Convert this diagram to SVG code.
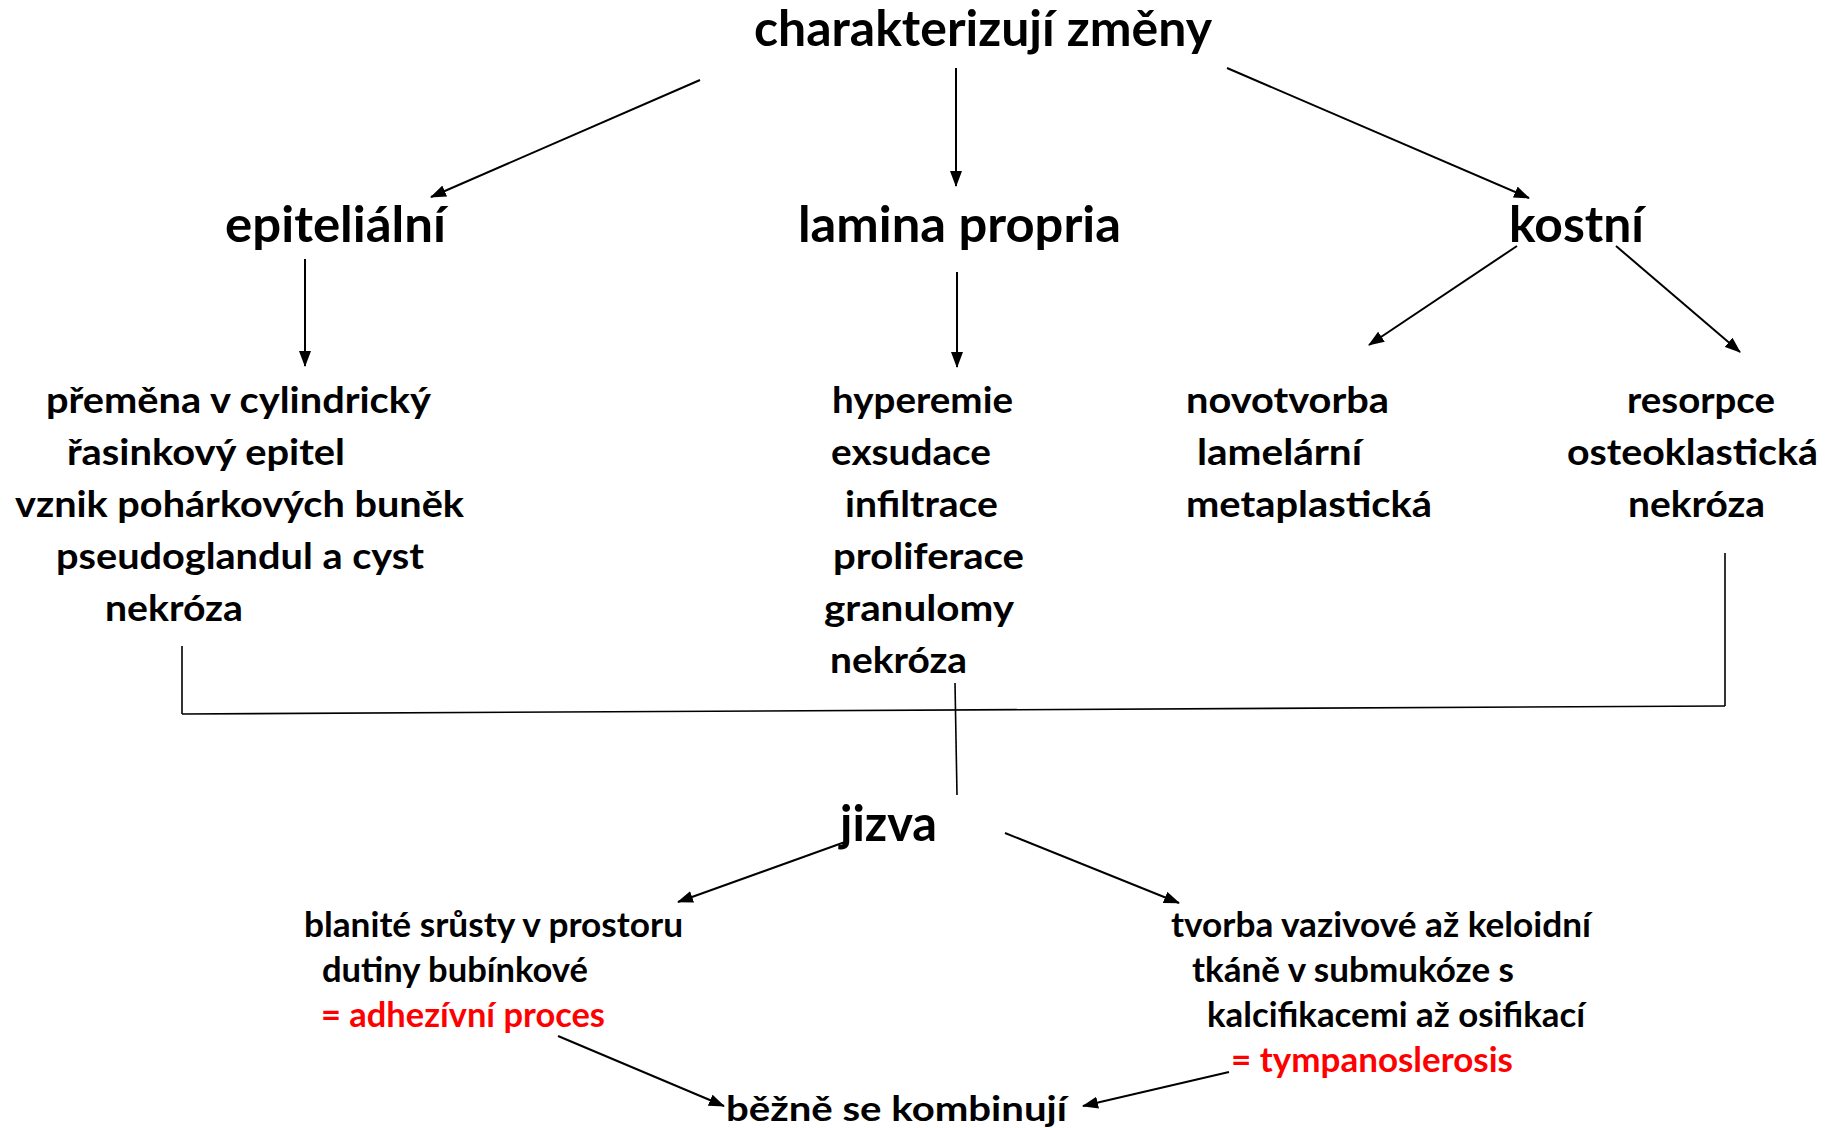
<svg xmlns="http://www.w3.org/2000/svg" width="1832" height="1128" viewBox="0 0 1832 1128">
<defs>
<style>
text{font-family:Lato,"Open Sans","Liberation Sans",sans-serif;font-weight:bold;fill:#000}
.h{font-size:49px}
.m{font-size:37px}
.s{font-size:34px}
.red{fill:#ff0000}
.arr{stroke:#000;stroke-width:2;fill:none;marker-end:url(#ah)}
.ln{stroke:#000;stroke-width:1.6;fill:none}
</style>
<marker id="ah" viewBox="0 0 16 12" refX="15" refY="6" markerWidth="16" markerHeight="12" markerUnits="userSpaceOnUse" orient="auto">
<path d="M0,0 L16,6 L0,12 Z" fill="#000"/>
</marker>
</defs>
<rect width="1832" height="1128" fill="#fff"/>
<g id="connectors">
<line class="arr" x1="700" y1="80" x2="431" y2="197"/>
<line class="arr" x1="956" y1="68" x2="956" y2="186"/>
<line class="arr" x1="1227" y1="68" x2="1529" y2="198"/>
<line class="arr" x1="305" y1="259" x2="305" y2="366"/>
<line class="arr" x1="957" y1="272" x2="957" y2="367"/>
<line class="arr" x1="1517" y1="246" x2="1369" y2="345"/>
<line class="arr" x1="1616" y1="246" x2="1740" y2="352"/>
<line class="ln" x1="182" y1="646" x2="182" y2="714"/>
<line class="ln" x1="182" y1="714" x2="1725" y2="706"/>
<line class="ln" x1="1725" y1="553" x2="1725" y2="706"/>
<line class="ln" x1="955" y1="683" x2="957" y2="795"/>
<line class="arr" x1="845" y1="842" x2="678" y2="902"/>
<line class="arr" x1="1005" y1="833" x2="1179" y2="903"/>
<line class="arr" x1="558" y1="1036" x2="724" y2="1106"/>
<line class="arr" x1="1229" y1="1072" x2="1083" y2="1106"/>
</g>
<g id="n-title"><text class="h" x="754" y="46" textLength="458" lengthAdjust="spacingAndGlyphs">charakterizují změny</text></g>
<g id="n-epitelialni"><text class="h" x="225" y="242" textLength="221" lengthAdjust="spacingAndGlyphs">epiteliální</text></g>
<g id="n-lamina"><text class="h" x="798" y="242" textLength="323" lengthAdjust="spacingAndGlyphs">lamina propria</text></g>
<g id="n-kostni"><text class="h" x="1509" y="242" textLength="135" lengthAdjust="spacingAndGlyphs">kostní</text></g>
<g id="n-epi-list">
<text class="m" x="46" y="413" textLength="385" lengthAdjust="spacingAndGlyphs">přeměna v cylindrický</text>
<text class="m" x="67" y="465" textLength="278" lengthAdjust="spacingAndGlyphs">řasinkový epitel</text>
<text class="m" x="15" y="517" textLength="449" lengthAdjust="spacingAndGlyphs">vznik pohárkových buněk</text>
<text class="m" x="56" y="569" textLength="368" lengthAdjust="spacingAndGlyphs">pseudoglandul a cyst</text>
<text class="m" x="105" y="621" textLength="138" lengthAdjust="spacingAndGlyphs">nekróza</text>
</g>
<g id="n-lamina-list">
<text class="m" x="832" y="413" textLength="181" lengthAdjust="spacingAndGlyphs">hyperemie</text>
<text class="m" x="831" y="465" textLength="160" lengthAdjust="spacingAndGlyphs">exsudace</text>
<text class="m" x="845" y="517" textLength="153" lengthAdjust="spacingAndGlyphs">infiltrace</text>
<text class="m" x="833" y="569" textLength="191" lengthAdjust="spacingAndGlyphs">proliferace</text>
<text class="m" x="824" y="621" textLength="190" lengthAdjust="spacingAndGlyphs">granulomy</text>
<text class="m" x="830" y="673" textLength="137" lengthAdjust="spacingAndGlyphs">nekróza</text>
</g>
<g id="n-novotvorba">
<text class="m" x="1186" y="413" textLength="203" lengthAdjust="spacingAndGlyphs">novotvorba</text>
<text class="m" x="1197" y="465" textLength="165" lengthAdjust="spacingAndGlyphs">lamelární</text>
<text class="m" x="1186" y="517" textLength="246" lengthAdjust="spacingAndGlyphs">metaplastická</text>
</g>
<g id="n-resorpce">
<text class="m" x="1627" y="413" textLength="148" lengthAdjust="spacingAndGlyphs">resorpce</text>
<text class="m" x="1567" y="465" textLength="251" lengthAdjust="spacingAndGlyphs">osteoklastická</text>
<text class="m" x="1628" y="517" textLength="137" lengthAdjust="spacingAndGlyphs">nekróza</text>
</g>
<g id="n-jizva"><text class="h" x="840" y="841" textLength="97" lengthAdjust="spacingAndGlyphs">jizva</text></g>
<g id="n-adheze">
<text class="s" x="304" y="937" textLength="379" lengthAdjust="spacingAndGlyphs">blanité srůsty v prostoru</text>
<text class="s" x="322" y="982" textLength="266" lengthAdjust="spacingAndGlyphs">dutiny bubínkové</text>
<text class="s red" x="321" y="1027" textLength="284" lengthAdjust="spacingAndGlyphs">= adhezívní proces</text>
</g>
<g id="n-tympano">
<text class="s" x="1171" y="937" textLength="420" lengthAdjust="spacingAndGlyphs">tvorba vazivové až keloidní</text>
<text class="s" x="1192" y="982" textLength="322" lengthAdjust="spacingAndGlyphs">tkáně v submukóze s</text>
<text class="s" x="1207" y="1027" textLength="378" lengthAdjust="spacingAndGlyphs">kalcifikacemi až osifikací</text>
<text class="s red" x="1231" y="1072" textLength="282" lengthAdjust="spacingAndGlyphs">= tympanoslerosis</text>
</g>
<g id="n-kombinace"><text class="s" x="726" y="1121" textLength="341" lengthAdjust="spacingAndGlyphs">běžně se kombinují</text></g>
</svg>
